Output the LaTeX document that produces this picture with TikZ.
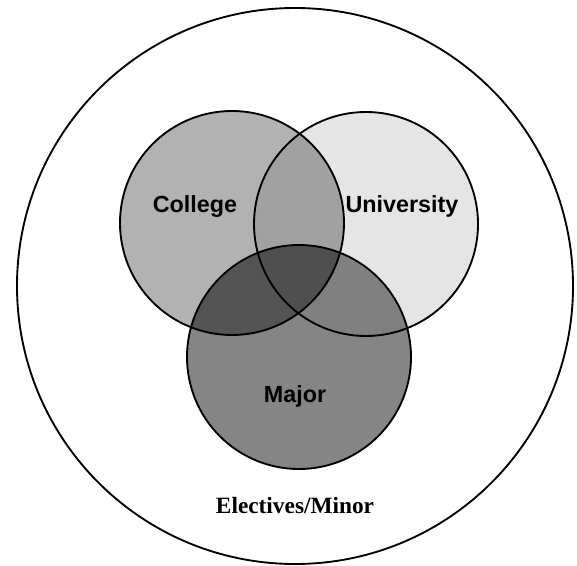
\documentclass[tikz,border=0pt]{standalone}
\usepackage{fontspec}
\setmainfont{Liberation Serif}
\setsansfont{Liberation Sans}
\usepackage{tikz}

\begin{document}
\begin{tikzpicture}[
		x=0.75pt, y=-0.75pt,
		every node/.style={inner sep=0pt},
		set/.style={circle, minimum size=168pt},
		set_label/.style={anchor=base, font=\sffamily\bfseries\fontsize{17.5}{20}\selectfont},
		rim/.style={line width=1.4pt}
	]
  \useasboundingbox (0,0) rectangle (577,566);
  \node (outer) [circle, minimum size=417pt, draw, rim] at (295,286) {};
  \node (college) [set, fill=black!30] at (232,223) {};
  \node (univ) [set, fill=black!10] at (366,224) {};
  \node (major) [set, fill=black!48] at (299,357) {};
  % overlaps
  \begin{scope}
    \clip (college.center) circle [radius=84pt];
    \fill [black!37] (univ.center) circle [radius=84pt];
    \fill [black!67] (major.center) circle [radius=84pt];
    \clip (univ.center) circle [radius=84pt];
    \fill [black!69] (major.center) circle [radius=84pt];
  \end{scope}
  \begin{scope}
    \clip (univ.center) circle [radius=84pt];
    \clip (major.center) circle [radius=84pt];
    \fill [black!50] (univ.center) circle [radius=84pt];
    \clip (college.center) circle [radius=84pt];
    \fill [black!69] (college.center) circle [radius=84pt];
  \end{scope}
  \draw [rim] (college.center) circle [radius=84pt];
  \draw [rim] (univ.center) circle [radius=84pt];
  \draw [rim] (major.center) circle [radius=84pt];
  \node (college_label) [set_label] at (195,213) {College};
  \node (univ_label) [set_label] at (402,213) {University};
  \node (major_label) [set_label] at (295,402) {Major};
  \node (electives_label) [anchor=base, font=\bfseries\fontsize{17.5}{20}\selectfont] at (295,513) {Electives/Minor};
\end{tikzpicture}
\end{document}
